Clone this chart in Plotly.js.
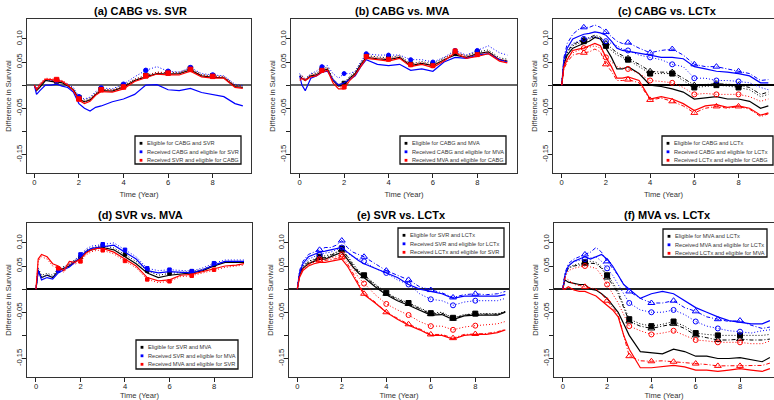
<!DOCTYPE html>
<html><head><meta charset="utf-8">
<script src="https://cdn.plot.ly/plotly-3.0.1.min.js"></script>
<style>html,body{margin:0;padding:0;background:#fff}#chart{width:774px;height:400px}</style>
</head><body><div id="chart"></div>
<script>
// ---------- data ----------
const T = [0, 0.1, 0.25, 0.5, 0.75, 1, 1.25, 1.5, 1.75, 2, 2.25, 2.5, 2.75, 3, 3.5, 4, 4.5, 5, 5.5, 6, 6.5, 7, 7.5, 8, 8.5, 9, 9.35];
const MT = [1, 2, 3, 4, 5, 6, 7, 8];
const xTicks = [0, 2, 4, 6, 8];
const yTicks = [-0.15, -0.10, -0.05, 0, 0.05, 0.10];
const yTickText = ["-0.15", "", "-0.05", "", "0.05", "0.10"];
const panelTitles = ["(a) CABG vs. SVR", "(b) CABG vs. MVA", "(c) CABG vs. LCTx", "(d) SVR vs. MVA", "(e) SVR vs. LCTx", "(f) MVA vs. LCTx"];
const legendA = ["Eligible for CABG and SVR", "Received CABG and eligible for SVR", "Received SVR and eligible for CABG"];
const legendB = ["Eligible for CABG and MVA", "Received CABG and eligible for MVA", "Received MVA and eligible for CABG"];
const legendC = ["Eligible for CABG and LCTx", "Received CABG and eligible for LCTx", "Received LCTx and eligible for CABG"];
const legendD = ["Eligible for SVR and MVA", "Received SVR and eligible for MVA", "Received MVA and eligible for SVR"];
const legendE = ["Eligible for SVR and LCTx", "Received SVR and eligible for LCTx", "Received LCTx and eligible for SVR"];
const legendF = ["Eligible for MVA and LCTx", "Received MVA and eligible for LCTx", "Received LCTx and eligible for MVA"];

// (a) CABG vs SVR
const a_blk_s = [0, -0.012, -0.005, 0.01, 0.008, 0.007, 0.005, -0.002, -0.01, -0.03, -0.036, -0.032, -0.02, -0.012, -0.013, -0.004, 0.01, 0.018, 0.025, 0.024, 0.025, 0.033, 0.02, 0.017, 0.016, -0.003, -0.005];
const a_blk_d = [0, -0.008, 0.0, 0.012, 0.01, 0.009, 0.007, 0.0, -0.008, -0.027, -0.032, -0.028, -0.017, -0.009, -0.01, -0.001, 0.013, 0.021, 0.028, 0.027, 0.028, 0.036, 0.023, 0.02, 0.019, 0.0, -0.002];
const a_blu_s = [0, -0.02, -0.012, 0.0, 0.0, 0.002, -0.002, -0.005, -0.015, -0.04, -0.05, -0.056, -0.048, -0.045, -0.036, -0.03, -0.02, 0.0, 0.001, -0.01, -0.012, -0.007, -0.016, -0.02, -0.025, -0.04, -0.045];
const a_blu_d = [0, -0.005, 0.002, 0.012, 0.01, 0.01, 0.008, 0.002, -0.005, -0.025, -0.03, -0.026, -0.014, -0.006, -0.008, 0.002, 0.018, 0.032, 0.04, 0.03, 0.028, 0.038, 0.025, 0.022, 0.02, 0.002, -0.001];
const a_red_s = [0, -0.01, 0.0, 0.013, 0.012, 0.01, 0.008, 0.0, -0.012, -0.033, -0.04, -0.035, -0.022, -0.014, -0.015, -0.008, 0.008, 0.016, 0.024, 0.022, 0.022, 0.03, 0.018, 0.015, 0.015, -0.005, -0.007];
const a_red_d = [0, -0.006, 0.004, 0.015, 0.014, 0.012, 0.01, 0.003, -0.009, -0.03, -0.036, -0.031, -0.018, -0.01, -0.011, -0.004, 0.012, 0.02, 0.028, 0.026, 0.026, 0.034, 0.022, 0.019, 0.018, -0.001, -0.003];

// (b) CABG vs MVA
const b_blk_s = [0.02, 0.015, 0.01, 0.02, 0.022, 0.03, 0.035, 0.01, -0.002, 0.0, 0.015, 0.025, 0.045, 0.06, 0.057, 0.055, 0.06, 0.042, 0.047, 0.042, 0.055, 0.065, 0.06, 0.068, 0.072, 0.055, 0.052];
const b_blk_d = [0.022, 0.02, 0.014, 0.024, 0.026, 0.034, 0.039, 0.014, 0.002, 0.004, 0.019, 0.029, 0.049, 0.064, 0.061, 0.059, 0.064, 0.046, 0.051, 0.046, 0.059, 0.069, 0.064, 0.072, 0.076, 0.059, 0.056];
const b_blu_s = [0.02, 0.0, -0.012, 0.015, 0.02, 0.028, 0.03, 0.012, 0.0, 0.005, 0.012, 0.02, 0.04, 0.055, 0.045, 0.042, 0.045, 0.032, 0.035, 0.03, 0.05, 0.06, 0.058, 0.065, 0.068, 0.055, 0.05];
const b_blu_d = [0.025, 0.02, 0.01, 0.025, 0.03, 0.04, 0.042, 0.025, 0.015, 0.025, 0.025, 0.03, 0.05, 0.068, 0.065, 0.065, 0.065, 0.055, 0.055, 0.05, 0.06, 0.075, 0.065, 0.075, 0.085, 0.07, 0.065];
const b_red_s = [0.01, 0.015, 0.01, 0.018, 0.02, 0.028, 0.032, 0.005, -0.008, -0.008, 0.01, 0.022, 0.04, 0.058, 0.055, 0.052, 0.058, 0.04, 0.045, 0.038, 0.052, 0.07, 0.058, 0.062, 0.068, 0.052, 0.048];
const b_red_d = [0.015, 0.02, 0.012, 0.022, 0.024, 0.032, 0.036, 0.01, -0.004, -0.004, 0.014, 0.026, 0.044, 0.062, 0.059, 0.056, 0.062, 0.044, 0.049, 0.042, 0.056, 0.074, 0.062, 0.066, 0.072, 0.056, 0.052];

// (c) CABG vs LCTx
const c_blk_s = [0, 0.045, 0.065, 0.08, 0.085, 0.09, 0.095, 0.103, 0.1, 0.08, 0.06, 0.035, 0.035, 0.04, 0.025, 0.0, -0.003, -0.008, -0.015, -0.03, -0.028, -0.025, -0.03, -0.03, -0.035, -0.05, -0.045];
const c_blk_d = [0, 0.05, 0.07, 0.085, 0.09, 0.095, 0.1, 0.105, 0.1, 0.085, 0.075, 0.065, 0.06, 0.055, 0.04, 0.025, 0.025, 0.025, 0.01, -0.005, -0.003, 0.0, -0.002, -0.005, -0.01, -0.025, -0.02];
const c_blk_a = [0, 0.052, 0.072, 0.088, 0.093, 0.098, 0.102, 0.108, 0.104, 0.09, 0.08, 0.07, 0.064, 0.058, 0.045, 0.03, 0.028, 0.028, 0.015, 0.0, 0.002, 0.003, 0.002, 0.0, -0.005, -0.02, -0.015];
const c_blu_s = [0, 0.055, 0.08, 0.1, 0.105, 0.11, 0.112, 0.115, 0.113, 0.108, 0.095, 0.08, 0.075, 0.073, 0.07, 0.065, 0.06, 0.06, 0.057, 0.04, 0.035, 0.03, 0.028, 0.025, 0.02, 0.005, 0.005];
const c_blu_d = [0, 0.05, 0.075, 0.09, 0.095, 0.1, 0.102, 0.105, 0.1, 0.095, 0.09, 0.085, 0.078, 0.075, 0.065, 0.06, 0.055, 0.045, 0.04, 0.015, 0.015, 0.01, 0.01, 0.008, 0.005, -0.005, -0.01];
const c_blu_a = [0, 0.06, 0.09, 0.11, 0.12, 0.125, 0.125, 0.13, 0.125, 0.115, 0.105, 0.095, 0.09, 0.092, 0.08, 0.07, 0.075, 0.078, 0.065, 0.045, 0.04, 0.04, 0.035, 0.03, 0.025, 0.01, 0.012];
const c_red_s = [0, 0.04, 0.055, 0.075, 0.078, 0.08, 0.085, 0.09, 0.085, 0.06, 0.04, 0.015, 0.015, 0.018, 0.01, -0.03, -0.025, -0.03, -0.04, -0.055, -0.045, -0.042, -0.048, -0.045, -0.05, -0.065, -0.06];
const c_red_d = [0, 0.045, 0.06, 0.07, 0.075, 0.08, 0.082, 0.085, 0.08, 0.06, 0.05, 0.04, 0.037, 0.035, 0.025, 0.01, 0.008, 0.005, -0.005, -0.02, -0.018, -0.02, -0.02, -0.02, -0.025, -0.035, -0.03];
const c_red_a = [0, 0.035, 0.05, 0.065, 0.068, 0.07, 0.072, 0.078, 0.072, 0.045, 0.03, 0.01, 0.01, 0.012, 0.005, -0.032, -0.028, -0.035, -0.045, -0.06, -0.05, -0.046, -0.05, -0.046, -0.052, -0.068, -0.062];

// (d) SVR vs MVA
const d_blk_s = [0.0, 0.04, 0.025, 0.03, 0.025, 0.04, 0.045, 0.05, 0.06, 0.065, 0.08, 0.085, 0.088, 0.09, 0.085, 0.07, 0.055, 0.035, 0.025, 0.03, 0.033, 0.035, 0.04, 0.05, 0.058, 0.058, 0.058];
const d_blk_d = [0.0, 0.045, 0.03, 0.034, 0.03, 0.044, 0.049, 0.054, 0.064, 0.069, 0.084, 0.089, 0.092, 0.094, 0.089, 0.075, 0.06, 0.04, 0.03, 0.034, 0.036, 0.038, 0.043, 0.053, 0.06, 0.06, 0.06];
const d_blu_s = [0.0, 0.04, 0.02, 0.025, 0.022, 0.035, 0.042, 0.048, 0.058, 0.07, 0.082, 0.088, 0.09, 0.092, 0.095, 0.08, 0.065, 0.04, 0.035, 0.038, 0.036, 0.035, 0.042, 0.052, 0.06, 0.06, 0.06];
const d_blu_d = [0.0, 0.045, 0.025, 0.03, 0.027, 0.04, 0.047, 0.053, 0.063, 0.075, 0.087, 0.093, 0.095, 0.097, 0.1, 0.085, 0.07, 0.045, 0.04, 0.042, 0.04, 0.039, 0.046, 0.056, 0.063, 0.063, 0.063];
const d_red_s = [0.0, 0.065, 0.075, 0.07, 0.055, 0.05, 0.04, 0.06, 0.058, 0.065, 0.078, 0.085, 0.088, 0.088, 0.08, 0.065, 0.05, 0.025, 0.018, 0.02, 0.03, 0.032, 0.038, 0.045, 0.05, 0.052, 0.055];
const d_red_d = [0.0, 0.06, 0.07, 0.065, 0.05, 0.045, 0.036, 0.055, 0.054, 0.06, 0.074, 0.081, 0.084, 0.084, 0.076, 0.061, 0.046, 0.021, 0.014, 0.017, 0.027, 0.029, 0.035, 0.042, 0.047, 0.05, 0.052];

// (e) SVR vs LCTx
const e_blk_s = [0, 0.03, 0.045, 0.055, 0.06, 0.065, 0.065, 0.07, 0.075, 0.08, 0.065, 0.048, 0.035, 0.025, 0.005, -0.012, -0.025, -0.035, -0.045, -0.056, -0.055, -0.066, -0.058, -0.056, -0.056, -0.056, -0.05];
const e_blk_d = [0, 0.035, 0.05, 0.06, 0.065, 0.07, 0.072, 0.075, 0.08, 0.088, 0.072, 0.055, 0.04, 0.03, 0.01, -0.008, -0.02, -0.03, -0.04, -0.052, -0.05, -0.062, -0.055, -0.053, -0.053, -0.053, -0.048];
const e_blk_a = [0, 0.033, 0.048, 0.058, 0.063, 0.068, 0.068, 0.073, 0.078, 0.085, 0.07, 0.052, 0.038, 0.028, 0.008, -0.01, -0.022, -0.032, -0.042, -0.054, -0.052, -0.064, -0.056, -0.054, -0.054, -0.054, -0.049];
const e_blu_s = [0, 0.035, 0.055, 0.07, 0.075, 0.08, 0.082, 0.085, 0.088, 0.09, 0.08, 0.07, 0.062, 0.055, 0.045, 0.035, 0.025, 0.01, 0.0, -0.005, -0.01, -0.02, -0.015, -0.015, -0.015, -0.015, -0.012];
const e_blu_d = [0, 0.03, 0.05, 0.065, 0.07, 0.075, 0.078, 0.08, 0.085, 0.09, 0.078, 0.07, 0.065, 0.06, 0.045, 0.035, 0.02, 0.01, -0.01, -0.022, -0.025, -0.035, -0.028, -0.025, -0.025, -0.025, -0.02];
const e_blu_a = [0, 0.04, 0.06, 0.075, 0.08, 0.085, 0.09, 0.09, 0.095, 0.105, 0.09, 0.08, 0.075, 0.07, 0.055, 0.04, 0.03, 0.02, 0.005, -0.002, -0.008, -0.018, -0.012, -0.01, -0.012, -0.01, -0.005];
const e_red_s = [0, 0.025, 0.04, 0.05, 0.055, 0.058, 0.058, 0.06, 0.062, 0.065, 0.05, 0.03, 0.01, -0.012, -0.03, -0.05, -0.065, -0.078, -0.088, -0.1, -0.1, -0.108, -0.1, -0.098, -0.098, -0.094, -0.088];
const e_red_d = [0, 0.03, 0.045, 0.055, 0.06, 0.065, 0.065, 0.068, 0.07, 0.075, 0.06, 0.045, 0.025, 0.012, -0.012, -0.032, -0.045, -0.056, -0.07, -0.08, -0.08, -0.088, -0.082, -0.079, -0.077, -0.075, -0.07];
const e_red_a = [0, 0.028, 0.043, 0.053, 0.058, 0.062, 0.062, 0.064, 0.066, 0.07, 0.055, 0.035, 0.012, -0.01, -0.028, -0.05, -0.063, -0.076, -0.086, -0.098, -0.098, -0.106, -0.098, -0.097, -0.096, -0.092, -0.087];

// (f) MVA vs LCTx
const f_blk_s = [0, 0.02, 0.015, 0.012, 0.01, 0.01, 0.0, -0.002, -0.01, -0.02, -0.035, -0.05, -0.075, -0.1, -0.135, -0.138, -0.14, -0.13, -0.135, -0.145, -0.145, -0.15, -0.15, -0.148, -0.152, -0.157, -0.148];
const f_blk_d = [0, 0.032, 0.047, 0.052, 0.055, 0.058, 0.06, 0.058, 0.048, 0.03, 0.015, -0.005, -0.035, -0.065, -0.075, -0.08, -0.076, -0.07, -0.08, -0.095, -0.098, -0.1, -0.1, -0.1, -0.1, -0.1, -0.098];
const f_blk_a = [0, 0.03, 0.045, 0.05, 0.052, 0.055, 0.056, 0.055, 0.045, 0.025, 0.01, -0.01, -0.04, -0.07, -0.08, -0.085, -0.08, -0.075, -0.085, -0.1, -0.105, -0.11, -0.11, -0.108, -0.11, -0.11, -0.108];
const f_blu_s = [0, 0.03, 0.05, 0.06, 0.065, 0.07, 0.065, 0.07, 0.075, 0.065, 0.05, 0.03, 0.01, 0.0, -0.02, -0.01, -0.005, -0.01, -0.025, -0.04, -0.05, -0.06, -0.068, -0.072, -0.075, -0.075, -0.068];
const f_blu_d = [0, 0.03, 0.05, 0.06, 0.062, 0.065, 0.068, 0.07, 0.06, 0.045, 0.03, 0.01, -0.01, -0.03, -0.045, -0.05, -0.05, -0.045, -0.055, -0.07, -0.08, -0.085, -0.09, -0.092, -0.095, -0.09, -0.088];
const f_blu_a = [0, 0.035, 0.055, 0.065, 0.07, 0.075, 0.08, 0.09, 0.08, 0.06, 0.045, 0.03, 0.01, -0.005, -0.02, -0.03, -0.03, -0.025, -0.04, -0.048, -0.06, -0.065, -0.07, -0.068, -0.078, -0.085, -0.082];
const f_red_s = [0, 0.0, 0.005, -0.002, -0.005, -0.005, -0.01, -0.015, -0.025, -0.035, -0.045, -0.06, -0.1, -0.13, -0.17, -0.17, -0.168, -0.165, -0.168, -0.175, -0.175, -0.178, -0.175, -0.172, -0.175, -0.178, -0.172];
const f_red_d = [0, 0.025, 0.04, 0.045, 0.048, 0.05, 0.048, 0.045, 0.03, 0.01, -0.01, -0.03, -0.055, -0.08, -0.09, -0.098, -0.095, -0.09, -0.1, -0.11, -0.112, -0.115, -0.115, -0.115, -0.118, -0.118, -0.112];
const f_red_a = [0, 0.025, 0.02, 0.01, 0.008, 0.005, 0.003, 0.0, -0.01, -0.025, -0.04, -0.055, -0.1, -0.145, -0.155, -0.156, -0.155, -0.157, -0.158, -0.161, -0.163, -0.166, -0.166, -0.166, -0.165, -0.165, -0.16];

// ---------- styling / layout ----------
const W = 774, H = 400;
const fx = p => p / W, fy = p => 1 - p / H;
const BLK = '#000000', BLU = '#0000ff', RED = '#ff0000';
const FONT = 'Liberation Sans, Arial, sans-serif';

const STY = {
  s: {dash: 'solid', width: 1.2},
  d: {dash: '1px,2px', width: 1},
  a: {dash: '4px,2px,1px,2px', width: 1}
};

const panels = [
  {title: panelTitles[0], tc: [140, 11], box: [27, 19, 251, 173], xr: [-0.327, 9.717], zc: '#666', zw: 2.2, leg: [135, 136, 241, 164], labels: legendA, ms: 4.5,
   series: [[a_blk_s, BLK, 's', null], [a_blk_d, BLK, 'd', 'square'], [a_blu_s, BLU, 's', null], [a_blu_d, BLU, 'd', 'circle'], [a_red_s, RED, 's', null], [a_red_d, RED, 'd', 'square']]},
  {title: panelTitles[1], tc: [403, 11], box: [291, 19, 517, 173], xr: [-0.392, 9.788], zc: '#666', zw: 2.2, leg: [400, 136, 506, 164], labels: legendB, ms: 4,
   series: [[b_blk_s, BLK, 's', null], [b_blk_d, BLK, 'd', 'square'], [b_blu_s, BLU, 's', null], [b_blu_d, BLU, 'd', 'circle'], [b_red_s, RED, 's', null], [b_red_d, RED, 'd', 'square']]},
  {title: panelTitles[2], tc: [667, 11], box: [553, 19, 774, 173], xr: [-0.394, 9.606], zc: '#000', zw: 1.3, leg: [662, 136, 773, 165], labels: legendC, ms: 5,
   series: [[c_blk_s, BLK, 's', null], [c_blk_d, BLK, 'd', 'square'], [c_blk_a, BLK, 'a', 'triangle-up-open'],
            [c_blu_s, BLU, 's', null], [c_blu_d, BLU, 'd', 'circle-open'], [c_blu_a, BLU, 'a', 'triangle-up-open'],
            [c_red_s, RED, 's', null], [c_red_d, RED, 'd', 'circle-open'], [c_red_a, RED, 'a', 'triangle-up-open']]},
  {title: panelTitles[3], tc: [140, 215], box: [27, 223, 252, 377], xr: [-0.404, 9.708], zc: '#000', zw: 1.3, leg: [136, 340, 238, 369], labels: legendD, ms: 3.5,
   series: [[d_blk_s, BLK, 's', null], [d_blk_d, BLK, 'd', 'square'], [d_blu_s, BLU, 's', null], [d_blu_d, BLU, 'd', 'square'], [d_red_s, RED, 's', null], [d_red_d, RED, 'd', 'square']]},
  {title: panelTitles[4], tc: [401, 215], box: [289, 223, 509, 377], xr: [-0.373, 9.515], zc: '#222', zw: 1.5, leg: [398, 228, 504, 257], labels: legendE, ms: 5,
   series: [[e_blk_s, BLK, 's', null], [e_blk_d, BLK, 'd', 'square'], [e_blk_a, BLK, 'a', 'triangle-up-open'],
            [e_blu_s, BLU, 's', null], [e_blu_d, BLU, 'd', 'circle-open'], [e_blu_a, BLU, 'a', 'triangle-up-open'],
            [e_red_s, RED, 's', null], [e_red_d, RED, 'd', 'circle-open'], [e_red_a, RED, 'a', 'triangle-up-open']]},
  {title: panelTitles[5], tc: [667, 215], box: [554, 223, 774, 377], xr: [-0.397, 9.535], zc: '#222', zw: 1.5, leg: [663, 229, 767, 257], labels: legendF, ms: 5,
   series: [[f_blk_s, BLK, 's', null], [f_blk_d, BLK, 'd', 'square'], [f_blk_a, BLK, 'a', 'triangle-up-open'],
            [f_blu_s, BLU, 's', null], [f_blu_d, BLU, 'd', 'circle-open'], [f_blu_a, BLU, 'a', 'triangle-up-open'],
            [f_red_s, RED, 's', null], [f_red_d, RED, 'd', 'circle-open'], [f_red_a, RED, 'a', 'triangle-up-open']]}
];

const traces = [];
const layout = {
  width: W, height: H, margin: {l: 0, r: 0, t: 0, b: 0},
  paper_bgcolor: '#fff', plot_bgcolor: '#fff', showlegend: false,
  font: {family: FONT, color: '#000'},
  annotations: [], shapes: []
};

panels.forEach((p, i) => {
  const n = i + 1, sfx = n === 1 ? '' : String(n);
  const [x0, y0, x1, y1] = p.box;
  layout['xaxis' + sfx] = {
    domain: [fx(x0), fx(x1)], range: p.xr, anchor: 'y' + sfx,
    tickmode: 'array', tickvals: xTicks, ticks: 'outside', ticklen: 4, tickwidth: 1, tickcolor: '#222',
    ticklabelstandoff: -2,
    showline: true, mirror: true, linecolor: '#333', linewidth: 1.3,
    showgrid: false, zeroline: false, tickfont: {size: 7.6, color: '#222'},
    title: {text: 'Time (Year)', font: {size: 7.6, color: '#333'}, standoff: 5}
  };
  layout['yaxis' + sfx] = {
    domain: [fy(y1), fy(y0)], range: [-0.19, 0.143], anchor: 'x' + sfx,
    tickmode: 'array', tickvals: yTicks, ticktext: yTickText, tickangle: -90,
    ticks: 'outside', ticklen: 4, tickwidth: 1, tickcolor: '#222',
    ticklabelstandoff: -3,
    showline: true, mirror: true, linecolor: '#333', linewidth: 1.3,
    showgrid: false, zeroline: true, zerolinecolor: p.zc, zerolinewidth: p.zw,
    tickfont: {size: 7.6, color: '#222'},
    title: {text: 'Difference in Survival', font: {size: 7.6, color: '#333'}, standoff: 2}
  };
  p.series.forEach(([ser, col, st, sym]) => {
    traces.push({
      x: T, y: ser, xaxis: 'x' + sfx, yaxis: 'y' + sfx, mode: 'lines', hoverinfo: 'skip',
      line: {color: col, width: STY[st].width, dash: STY[st].dash}
    });
    if (sym) {
      traces.push({
        x: MT, y: MT.map(t => ser[T.indexOf(t)]), xaxis: 'x' + sfx, yaxis: 'y' + sfx,
        mode: 'markers', hoverinfo: 'skip',
        marker: {symbol: sym, size: sym.indexOf('triangle') === 0 ? p.ms + 1 : p.ms, color: col, line: {color: col, width: 1}}
      });
    }
  });
  // panel title
  layout.annotations.push({
    text: '<b>' + p.title + '</b>', xref: 'paper', yref: 'paper', x: fx(p.tc[0]), y: fy(p.tc[1]),
    xanchor: 'center', yanchor: 'middle', showarrow: false, font: {size: 11, color: '#000', family: FONT}
  });
  // legend box
  const [lx0, ly0, lx1, ly1] = p.leg;
  layout.shapes.push({type: 'rect', xref: 'paper', yref: 'paper', layer: 'above',
    x0: fx(lx0), x1: fx(lx1), y0: fy(ly1), y1: fy(ly0), fillcolor: '#fff', line: {color: '#111', width: 1.3}});
  [BLK, BLU, RED].forEach((c, k) => {
    const cy = ly0 + 7.3 + k * 8.5;
    layout.shapes.push({type: 'rect', xref: 'paper', yref: 'paper', layer: 'above',
      x0: fx(lx0 + 4.6), x1: fx(lx0 + 7.4), y0: fy(cy + 1.4), y1: fy(cy - 1.4), fillcolor: c, line: {width: 0}});
    layout.annotations.push({
      text: p.labels[k], xref: 'paper', yref: 'paper', x: fx(lx0 + 9.5), y: fy(cy),
      xanchor: 'left', yanchor: 'middle', showarrow: false, font: {size: 5.6, color: '#333', family: FONT}
    });
  });
});

Plotly.newPlot('chart', traces, layout, {staticPlot: true, displayModeBar: false});
</script>
</body></html>
